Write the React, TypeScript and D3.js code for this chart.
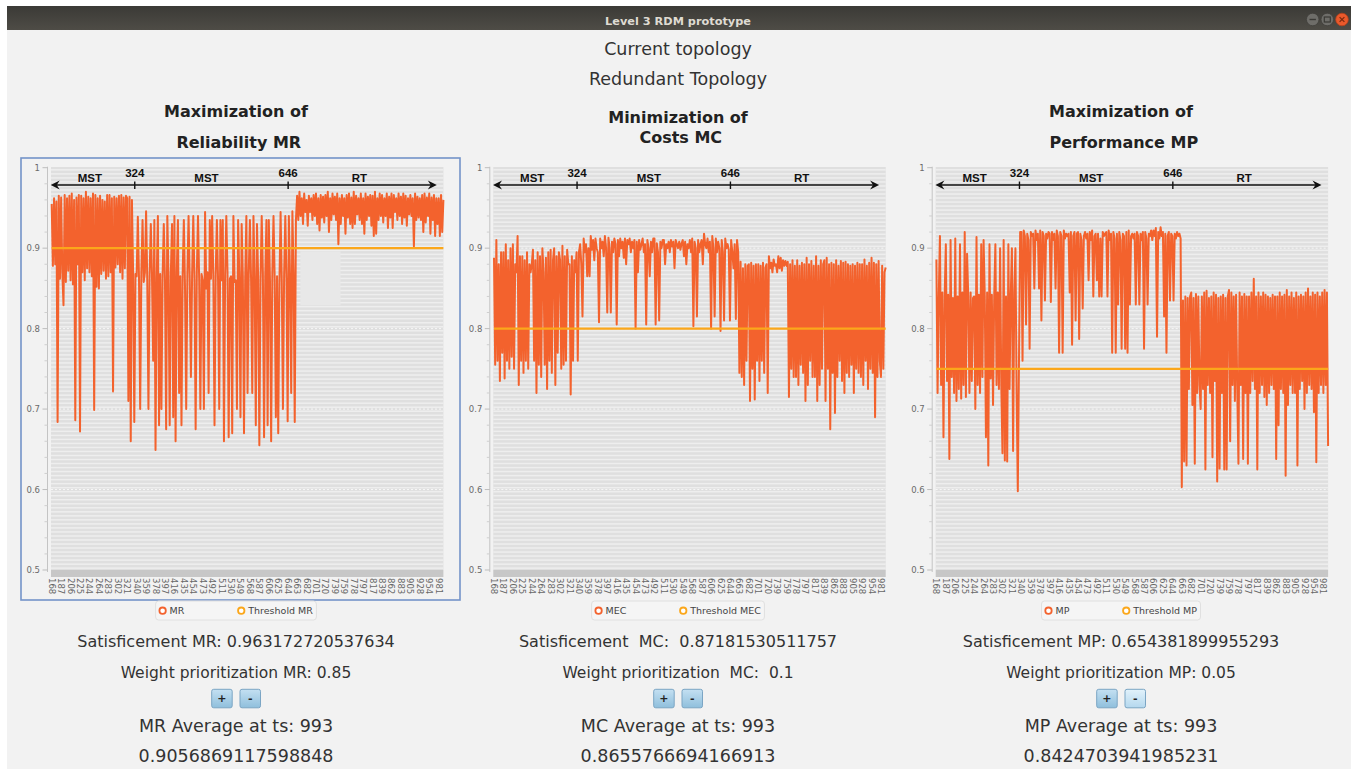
import React from 'react';
import * as d3 from 'd3';

// ---------- DATA ----------
const xTickLabels = [
  '168', '187', '206', '225', '244', '264', '283', '302', '321', '340', '359', '378', '397', '416',
  '435', '454', '473', '492', '511', '530', '549', '568', '587', '606', '625', '644', '663', '682',
  '701', '720', '739', '759', '778', '797', '817', '839', '862', '883', '905', '928', '954', '981',
];
const yMajorTicks = [0.5, 0.6, 0.7, 0.8, 0.9, 1];
const yMinorStep = 0.02;
const X_DOMAIN_END = 41.5; // category index of last timestep (993)
const DATA_STEP = 0.125; // category-index units between samples

const mrSeries = [
  0.955, 0.878, 0.962, 0.880, 0.958, 0.684, 0.965, 0.862,
  0.963, 0.870, 0.829, 0.966, 0.858, 0.962, 0.872, 0.965,
  0.860, 0.968, 0.855, 0.960, 0.686, 0.963, 0.880, 0.966,
  0.672, 0.965, 0.870, 0.962, 0.860, 0.970, 0.875, 0.964,
  0.870, 0.962, 0.865, 0.968, 0.699, 0.966, 0.852, 0.962,
  0.850, 0.965, 0.868, 0.960, 0.872, 0.958, 0.862, 0.966,
  0.865, 0.966, 0.870, 0.962, 0.722, 0.964, 0.876, 0.962,
  0.880, 0.965, 0.870, 0.966, 0.862, 0.963, 0.875, 0.965,
  0.962, 0.710, 0.964, 0.660, 0.960, 0.870, 0.684, 0.868,
  0.865, 0.939, 0.862, 0.700, 0.870, 0.935, 0.858, 0.870,
  0.946, 0.860, 0.700, 0.868, 0.930, 0.865, 0.760, 0.935,
  0.649, 0.862, 0.940, 0.680, 0.868, 0.700, 0.865, 0.930,
  0.860, 0.675, 0.940, 0.865, 0.680, 0.870, 0.930, 0.690,
  0.940, 0.660, 0.870, 0.935, 0.720, 0.865, 0.680, 0.868,
  0.935, 0.850, 0.700, 0.868, 0.940, 0.862, 0.740, 0.866,
  0.940, 0.862, 0.675, 0.870, 0.940, 0.860, 0.700, 0.868,
  0.860, 0.700, 0.945, 0.850, 0.870, 0.720, 0.935, 0.862,
  0.940, 0.865, 0.680, 0.868, 0.935, 0.860, 0.700, 0.935,
  0.860, 0.935, 0.660, 0.865, 0.940, 0.870, 0.665, 0.862,
  0.865, 0.670, 0.940, 0.858, 0.860, 0.700, 0.935, 0.866,
  0.690, 0.930, 0.865, 0.670, 0.862, 0.940, 0.720, 0.868,
  0.935, 0.860, 0.720, 0.940, 0.865, 0.680, 0.930, 0.862,
  0.655, 0.860, 0.940, 0.868, 0.665, 0.865, 0.935, 0.680,
  0.935, 0.860, 0.660, 0.868, 0.940, 0.862, 0.690, 0.865,
  0.670, 0.855, 0.945, 0.860, 0.700, 0.866, 0.940, 0.862,
  0.685, 0.940, 0.865, 0.720, 0.946, 0.870, 0.684, 0.935,
  0.965, 0.935, 0.970, 0.940, 0.962, 0.930, 0.968, 0.945,
  0.960, 0.928, 0.965, 0.945, 0.962, 0.935, 0.966, 0.940,
  0.968, 0.930, 0.962, 0.922, 0.966, 0.938, 0.964, 0.932,
  0.966, 0.940, 0.970, 0.920, 0.962, 0.935, 0.968, 0.942,
  0.964, 0.935, 0.968, 0.905, 0.962, 0.930, 0.966, 0.940,
  0.962, 0.918, 0.966, 0.938, 0.968, 0.930, 0.963, 0.925,
  0.970, 0.930, 0.965, 0.942, 0.962, 0.935, 0.968, 0.930,
  0.962, 0.918, 0.968, 0.935, 0.964, 0.940, 0.966, 0.928,
  0.965, 0.915, 0.970, 0.918, 0.962, 0.935, 0.968, 0.940,
  0.966, 0.932, 0.962, 0.940, 0.968, 0.925, 0.964, 0.938,
  0.968, 0.925, 0.966, 0.945, 0.962, 0.935, 0.968, 0.940,
  0.964, 0.930, 0.968, 0.938, 0.965, 0.928, 0.962, 0.942,
  0.966, 0.940, 0.962, 0.902, 0.968, 0.935, 0.964, 0.938,
  0.962, 0.935, 0.966, 0.920, 0.968, 0.932, 0.963, 0.940,
  0.968, 0.918, 0.963, 0.935, 0.966, 0.915, 0.962, 0.930,
  0.962, 0.915, 0.966, 0.920, 0.960,
];

const mcSeries = [
  0.888, 0.755, 0.910, 0.760, 0.880, 0.735, 0.895, 0.770,
  0.895, 0.738, 0.905, 0.760, 0.885, 0.750, 0.900, 0.765,
  0.905, 0.750, 0.880, 0.870, 0.915, 0.730, 0.890, 0.760,
  0.890, 0.745, 0.885, 0.760, 0.895, 0.750, 0.880, 0.870,
  0.880, 0.898, 0.760, 0.885, 0.720, 0.895, 0.755, 0.890,
  0.740, 0.900, 0.870, 0.755, 0.888, 0.725, 0.895, 0.760,
  0.898, 0.745, 0.885, 0.900, 0.730, 0.890, 0.770, 0.895,
  0.885, 0.750, 0.903, 0.755, 0.890, 0.760, 0.898, 0.880,
  0.880, 0.718, 0.890, 0.760, 0.885, 0.870, 0.895, 0.760,
  0.895, 0.905, 0.880, 0.815, 0.912, 0.895, 0.905, 0.865,
  0.900, 0.865, 0.915, 0.898, 0.910, 0.885, 0.912, 0.900,
  0.895, 0.808, 0.912, 0.900, 0.908, 0.890, 0.915, 0.900,
  0.820, 0.913, 0.900, 0.820, 0.908, 0.895, 0.912, 0.905,
  0.805, 0.910, 0.890, 0.912, 0.900, 0.908, 0.888, 0.912,
  0.880, 0.910, 0.905, 0.912, 0.895, 0.908, 0.900, 0.910,
  0.800, 0.908, 0.870, 0.910, 0.898, 0.905, 0.912, 0.895,
  0.905, 0.805, 0.910, 0.900, 0.865, 0.908, 0.895, 0.912,
  0.912, 0.805, 0.906, 0.895, 0.810, 0.908, 0.900, 0.910,
  0.910, 0.880, 0.905, 0.900, 0.908, 0.895, 0.910, 0.902,
  0.908, 0.875, 0.910, 0.905, 0.900, 0.908, 0.898, 0.906,
  0.910, 0.890, 0.908, 0.880, 0.905, 0.900, 0.910, 0.895,
  0.912, 0.803, 0.908, 0.900, 0.815, 0.910, 0.895, 0.905,
  0.910, 0.880, 0.918, 0.905, 0.900, 0.912, 0.895, 0.908,
  0.800, 0.915, 0.900, 0.815, 0.912, 0.895, 0.908, 0.900,
  0.797, 0.910, 0.895, 0.810, 0.912, 0.900, 0.905, 0.898,
  0.810, 0.910, 0.895, 0.875, 0.905, 0.812, 0.910, 0.895,
  0.745, 0.883, 0.740, 0.875, 0.730, 0.880, 0.760, 0.878,
  0.880, 0.710, 0.882, 0.750, 0.878, 0.712, 0.880, 0.760,
  0.880, 0.735, 0.878, 0.760, 0.882, 0.745, 0.876, 0.880,
  0.720, 0.890, 0.875, 0.882, 0.870, 0.886, 0.878, 0.880,
  0.870, 0.890, 0.875, 0.888, 0.872, 0.885, 0.878, 0.884,
  0.878, 0.883, 0.715, 0.880, 0.750, 0.885, 0.740, 0.878,
  0.740, 0.885, 0.730, 0.878, 0.755, 0.882, 0.745, 0.880,
  0.710, 0.888, 0.730, 0.880, 0.760, 0.884, 0.740, 0.878,
  0.740, 0.890, 0.710, 0.878, 0.730, 0.885, 0.750, 0.880,
  0.885, 0.710, 0.888, 0.750, 0.880, 0.675, 0.882, 0.745,
  0.880, 0.695, 0.885, 0.740, 0.878, 0.760, 0.884, 0.735,
  0.882, 0.720, 0.883, 0.745, 0.880, 0.740, 0.878, 0.755,
  0.880, 0.720, 0.878, 0.750, 0.882, 0.745, 0.880, 0.740,
  0.880, 0.730, 0.886, 0.760, 0.878, 0.725, 0.882, 0.750,
  0.888, 0.745, 0.882, 0.690, 0.880, 0.740, 0.884, 0.760,
  0.740, 0.878, 0.750, 0.870, 0.876,
];

const mpSeries = [
  0.886, 0.720, 0.840, 0.915, 0.730, 0.845, 0.665, 0.840,
  0.905, 0.735, 0.842, 0.638, 0.910, 0.740, 0.838, 0.720,
  0.912, 0.710, 0.840, 0.725, 0.905, 0.713, 0.845, 0.730,
  0.920, 0.715, 0.893, 0.840, 0.720, 0.845, 0.735, 0.838,
  0.840, 0.700, 0.914, 0.730, 0.842, 0.720, 0.905, 0.740,
  0.910, 0.840, 0.665, 0.845, 0.630, 0.905, 0.738, 0.842,
  0.705, 0.840, 0.905, 0.730, 0.845, 0.725, 0.900, 0.730,
  0.645, 0.910, 0.636, 0.840, 0.635, 0.905, 0.725, 0.840,
  0.900, 0.648, 0.845, 0.900, 0.720, 0.598, 0.760, 0.920,
  0.920, 0.760, 0.922, 0.915, 0.805, 0.918, 0.910, 0.775,
  0.920, 0.915, 0.918, 0.850, 0.922, 0.910, 0.918, 0.850,
  0.922, 0.810, 0.920, 0.915, 0.835, 0.918, 0.912, 0.920,
  0.918, 0.833, 0.920, 0.910, 0.918, 0.850, 0.922, 0.915,
  0.770, 0.920, 0.915, 0.770, 0.922, 0.912, 0.918, 0.915,
  0.918, 0.845, 0.920, 0.780, 0.915, 0.920, 0.810, 0.918,
  0.920, 0.787, 0.918, 0.910, 0.825, 0.915, 0.920, 0.912,
  0.918, 0.860, 0.920, 0.910, 0.922, 0.840, 0.915, 0.918,
  0.860, 0.918, 0.840, 0.912, 0.840, 0.920, 0.915, 0.918,
  0.920, 0.840, 0.922, 0.910, 0.918, 0.770, 0.920, 0.912,
  0.770, 0.918, 0.830, 0.920, 0.910, 0.775, 0.918, 0.915,
  0.775, 0.920, 0.770, 0.922, 0.830, 0.915, 0.918, 0.912,
  0.918, 0.830, 0.920, 0.915, 0.830, 0.918, 0.910, 0.920,
  0.775, 0.920, 0.912, 0.830, 0.918, 0.915, 0.922, 0.910,
  0.922, 0.915, 0.925, 0.790, 0.920, 0.912, 0.926, 0.915,
  0.920, 0.815, 0.918, 0.770, 0.915, 0.920, 0.835, 0.918,
  0.915, 0.835, 0.918, 0.912, 0.920, 0.915, 0.918, 0.912,
  0.603, 0.835, 0.635, 0.840, 0.630, 0.838, 0.725, 0.840,
  0.845, 0.705, 0.838, 0.632, 0.843, 0.720, 0.840, 0.730,
  0.700, 0.840, 0.725, 0.845, 0.625, 0.847, 0.730, 0.838,
  0.720, 0.840, 0.640, 0.845, 0.735, 0.842, 0.610, 0.838,
  0.626, 0.840, 0.720, 0.842, 0.625, 0.838, 0.625, 0.840,
  0.848, 0.660, 0.845, 0.730, 0.840, 0.710, 0.842, 0.725,
  0.632, 0.845, 0.730, 0.840, 0.638, 0.843, 0.720, 0.840,
  0.632, 0.840, 0.720, 0.845, 0.735, 0.862, 0.725, 0.840,
  0.625, 0.845, 0.720, 0.840, 0.730, 0.845, 0.715, 0.842,
  0.705, 0.840, 0.720, 0.838, 0.730, 0.842, 0.725, 0.840,
  0.638, 0.840, 0.680, 0.845, 0.725, 0.840, 0.720, 0.842,
  0.617, 0.848, 0.705, 0.840, 0.730, 0.845, 0.720, 0.838,
  0.720, 0.845, 0.630, 0.840, 0.725, 0.842, 0.735, 0.840,
  0.700, 0.845, 0.720, 0.850, 0.730, 0.840, 0.725, 0.845,
  0.696, 0.842, 0.634, 0.845, 0.720, 0.840, 0.730, 0.845,
  0.720, 0.848, 0.730, 0.845, 0.654,
];

const thresholds = [0.9, 0.8, 0.75];
const seriesList = [mrSeries, mcSeries, mpSeries];
const seriesNames = ['MR', 'MEC', 'MP'];
const thresholdNames = ['Threshold MR', 'Threshold MEC', 'Threshold MP'];

const phaseBoundaries = [
  { label: '324', at: 8.8 },
  { label: '646', at: 25.05 },
];
const phaseNames = [
  { label: 'MST', at: 4.05 },
  { label: 'MST', at: 16.4 },
  { label: 'RT', at: 32.6 },
];
const phaseArrowSpan = [0, 40.8];
const phaseArrowValue = 0.9785;

const windowTitle = 'Level 3 RDM prototype';
const headerLines = ['Current topology', 'Redundant Topology'];
const panelTitles = [
  ['Maximization of', ' Reliability MR'],
  ['Minimization of', ' Costs MC'],
  ['Maximization of', ' Performance MP'],
];
const satisficementTexts = [
  'Satisficement MR: 0.963172720537634',
  'Satisficement  MC:  0.87181530511757',
  'Satisficement MP: 0.654381899955293',
];
const weightTexts = [
  'Weight prioritization MR: 0.85',
  'Weight prioritization  MC:  0.1',
  'Weight prioritization MP: 0.05',
];
const averageLabels = ['MR Average at ts: 993', 'MC Average at ts: 993', 'MP Average at ts: 993'];
const averageValues = ['0.9056869117598848', '0.8655766694166913', '0.8424703941985231'];

// ---------- LAYOUT ----------
const W = 1351;
const H = 769;
const COLUMN_CENTERS = [236, 678, 1121];
const PLOT_LEFTS = [51, 493.3, 935.7];
const PLOT_WIDTH = 392.4;
const PLOT_TOP = 167.7;
const PLOT_BOTTOM = 570;
const TITLE_Y = [
  [116.7, 147.5],
  [123.3, 143.3],
  [116.7, 147.5],
];

const FONT = "'DejaVu Sans', 'Noto Sans', sans-serif";
const SERIES_COLOR = '#f3622d';
const THRESH_COLOR = '#fba71b';

function measure(text: string, font: string): number {
  if (typeof document === 'undefined') return text.length * 5.5;
  const c = document.createElement('canvas');
  const ctx = c.getContext('2d');
  if (!ctx) return text.length * 5.5;
  ctx.font = font;
  return ctx.measureText(text).width;
}

function Panel({ idx }: { idx: number }) {
  const left = PLOT_LEFTS[idx];
  const right = left + PLOT_WIDTH;
  const cx = COLUMN_CENTERS[idx];
  const x = d3.scaleLinear().domain([0, X_DOMAIN_END]).range([left + 0.7, right]);
  const y = d3.scaleLinear().domain([0.5, 1]).range([PLOT_BOTTOM, PLOT_TOP]);
  const line = d3
    .line<number>()
    .x((_, i) => x(i * DATA_STEP))
    .y((d) => y(d));
  const data = seriesList[idx];
  const thr = thresholds[idx];
  const thrLine = d3
    .line<number>()
    .x((d) => x(d))
    .y(() => y(thr));

  const axisX = left - 3.5;
  const minorTicks = d3.range(0.5, 1.0001, yMinorStep).filter(
    (v) => !yMajorTicks.some((m) => Math.abs(m - v) < 1e-6)
  );
  const stripes = d3.range(0.5, 1, 0.005);

  const arrowY = y(phaseArrowValue);
  const ax0 = x(phaseArrowSpan[0]) - 1;
  const ax1 = x(phaseArrowSpan[1]);

  const legendFont = `9.5px ${FONT}`;
  const tw = measure(thresholdNames[idx], legendFont);
  const boxW = 31.5 + 2 * tw;
  const boxL = cx - boxW / 2;
  const c1 = boxL + 7;
  const c2 = c1 + 14 + tw;
  const legendY = 610.7;

  const btnY = 689.3;
  const btnPlus = cx - 24.3;
  const btnMinus = cx + 4;

  return (
    <g>
      {idx === 0 && (
        <rect x={21} y={158} width={439} height={442} fill="none" stroke="#7393c8" strokeWidth={1.6} />
      )}
      {panelTitles[idx].map((t, k) => (
        <text
          key={k}
          x={cx}
          y={TITLE_Y[idx][k]}
          textAnchor="middle"
          fontFamily={FONT}
          fontWeight="bold"
          fontSize={16}
          fill="#222"
          style={{ whiteSpace: 'pre' }}
        >
          {t}
        </text>
      ))}
      <rect x={left} y={PLOT_TOP - 0.7} width={PLOT_WIDTH} height={PLOT_BOTTOM - PLOT_TOP + 0.7} fill="#dfdfdf" />
      {stripes.map((v, k) => (
        <rect key={k} x={left} y={y(v) - 2.6} width={PLOT_WIDTH} height={1.5} fill="#eeeeee" />
      ))}
      {yMajorTicks
        .filter((v) => v > 0.5 && v < 1)
        .map((v) => (
          <line key={v} x1={left} x2={right} y1={y(v)} y2={y(v)} stroke="#f7f7f7" strokeWidth={1} strokeDasharray="2 2" />
        ))}
      {idx === 0 && (
        <rect x={x(26.35)} y={y(0.896)} width={x(30.6) - x(26.35)} height={y(0.829) - y(0.896)} fill="#e8e8e8" />
      )}
      <rect x={left} y={PLOT_BOTTOM} width={PLOT_WIDTH} height={7} fill="#c7c7c7" />
      <line x1={axisX} x2={axisX} y1={PLOT_TOP - 1} y2={PLOT_BOTTOM + 2} stroke="#c4c4c4" strokeWidth={1} />
      {yMajorTicks.map((v) => (
        <g key={v}>
          <line x1={axisX - 5} x2={axisX} y1={y(v)} y2={y(v)} stroke="#bdbdbd" strokeWidth={1} />
          <text
            x={axisX - 7.5}
            y={y(v)}
            textAnchor="end"
            dominantBaseline="central"
            fontFamily={FONT}
            fontSize={8.5}
            fill="#6a6a6a"
          >
            {d3.format('~g')(v)}
          </text>
        </g>
      ))}
      {minorTicks.map((v, k) => (
        <line key={k} x1={axisX - 3} x2={axisX} y1={y(v)} y2={y(v)} stroke="#cfcfcf" strokeWidth={1} />
      ))}
      {xTickLabels.map((lab, i) => (
        <text
          key={lab}
          transform={`translate(${x(i)},578) rotate(90)`}
          textAnchor="start"
          dominantBaseline="central"
          fontFamily={FONT}
          fontSize={8.5}
          fill="#666"
        >
          {lab}
        </text>
      ))}
      <path d={line(data) || ''} fill="none" stroke={SERIES_COLOR} strokeWidth={2} strokeLinejoin="round" />
      <path d={thrLine([0, X_DOMAIN_END]) || ''} fill="none" stroke={THRESH_COLOR} strokeWidth={2.4} />
      <line x1={ax0 + 4} x2={ax1 - 4} y1={arrowY} y2={arrowY} stroke="#111" strokeWidth={1.4} />
      <path d={`M${ax0},${arrowY} L${ax0 + 9},${arrowY - 4.5} L${ax0 + 6},${arrowY} L${ax0 + 9},${arrowY + 4.5} Z`} fill="#111" />
      <path d={`M${ax1},${arrowY} L${ax1 - 9},${arrowY - 4.5} L${ax1 - 6},${arrowY} L${ax1 - 9},${arrowY + 4.5} Z`} fill="#111" />
      {phaseBoundaries.map((p) => (
        <g key={p.label}>
          <line x1={x(p.at)} x2={x(p.at)} y1={arrowY - 3.5} y2={arrowY + 4} stroke="#111" strokeWidth={1.4} />
          <text
            x={x(p.at)}
            y={arrowY - 7.7}
            textAnchor="middle"
            fontFamily="'Liberation Sans', Arial, sans-serif"
            fontWeight="bold"
            fontSize={11.5}
            fill="#111"
          >
            {p.label}
          </text>
        </g>
      ))}
      {phaseNames.map((p, k) => (
        <text
          key={k}
          x={x(p.at)}
          y={arrowY - 2.7}
          textAnchor="middle"
          fontFamily="'Liberation Sans', Arial, sans-serif"
          fontWeight="bold"
          fontSize={11.5}
          fill="#111"
        >
          {p.label}
        </text>
      ))}
      <rect x={boxL} y={601} width={boxW} height={19} rx={3} fill="#f5f5f5" stroke="#e0e0e0" strokeWidth={1} />
      <circle cx={c1} cy={legendY} r={3.2} fill="#fff" stroke={SERIES_COLOR} strokeWidth={1.8} />
      <text x={c1 + 7} y={legendY} dominantBaseline="central" fontFamily={FONT} fontSize={9.5} fill="#444">
        {seriesNames[idx]}
      </text>
      <circle cx={c2} cy={legendY} r={3.2} fill="#fff" stroke={THRESH_COLOR} strokeWidth={1.8} />
      <text x={c2 + 7} y={legendY} dominantBaseline="central" fontFamily={FONT} fontSize={9.5} fill="#444">
        {thresholdNames[idx]}
      </text>
      <text x={cx} y={646.7} textAnchor="middle" fontFamily={FONT} fontSize={16} fill="#333" style={{ whiteSpace: 'pre' }}>
        {satisficementTexts[idx]}
      </text>
      <text x={cx} y={677.7} textAnchor="middle" fontFamily={FONT} fontSize={15.5} fill="#333" style={{ whiteSpace: 'pre' }}>
        {weightTexts[idx]}
      </text>
      {[
        { bx: btnPlus, label: '+', hover: false },
        { bx: btnMinus, label: '-', hover: idx === 2 },
      ].map((b) => (
        <g key={b.label}>
          <rect
            x={b.bx}
            y={btnY}
            width={20.5}
            height={18.5}
            rx={2}
            fill={b.hover ? 'url(#btnHover)' : 'url(#btnGrad)'}
            stroke="#7ba5c4"
            strokeWidth={1}
          />
          <text
            x={b.bx + 10.25}
            y={btnY + 9.5}
            textAnchor="middle"
            dominantBaseline="central"
            fontFamily={FONT}
            fontWeight="bold"
            fontSize={11}
            fill="#222"
          >
            {b.label}
          </text>
        </g>
      ))}
      <text x={cx} y={732.3} textAnchor="middle" fontFamily={FONT} fontSize={17.5} fill="#333">
        {averageLabels[idx]}
      </text>
      <text x={cx} y={761.7} textAnchor="middle" fontFamily={FONT} fontSize={17.5} fill="#333">
        {averageValues[idx]}
      </text>
    </g>
  );
}

export default function App() {
  return (
    <div style={{ position: 'absolute', left: 0, top: 0, width: W, height: H }}>
      <svg width={W} height={H} style={{ display: 'block' }}>
        <defs>
          <linearGradient id="titleGrad" x1="0" y1="0" x2="0" y2="1">
            <stop offset="0" stopColor="#3b3a36" />
            <stop offset="1" stopColor="#4e4c46" />
          </linearGradient>
          <linearGradient id="btnGrad" x1="0" y1="0" x2="0" y2="1">
            <stop offset="0" stopColor="#c4e0f2" />
            <stop offset="1" stopColor="#8fbfdc" />
          </linearGradient>
          <linearGradient id="btnHover" x1="0" y1="0" x2="0" y2="1">
            <stop offset="0" stopColor="#e2f2fb" />
            <stop offset="1" stopColor="#b4d8ee" />
          </linearGradient>
        </defs>
        <rect x={0} y={0} width={W} height={H} fill="#ffffff" />
        <rect x={7} y={30} width={W - 7} height={H - 30} fill="#f2f2f2" />
        <rect x={7} y={6} width={W - 7} height={24} fill="url(#titleGrad)" />
        <text
          x={678}
          y={24.7}
          textAnchor="middle"
          fontFamily={FONT}
          fontWeight="bold"
          fontSize={11.3}
          fill="#dfdbd2"
        >
          {windowTitle}
        </text>
        <circle cx={1312.7} cy={19.5} r={6.3} fill="#6e6d69" stroke="#3f3e3a" strokeWidth={0.8} />
        <line x1={1309.5} x2={1315.9} y1={19.5} y2={19.5} stroke="#3a3935" strokeWidth={1.4} />
        <circle cx={1327.3} cy={19.5} r={6.3} fill="#6e6d69" stroke="#3f3e3a" strokeWidth={0.8} />
        <rect x={1324.3} y={17} width={6} height={5} fill="none" stroke="#3a3935" strokeWidth={1.2} />
        <circle cx={1342} cy={19.5} r={6.3} fill="#e9592b" stroke="#b8401c" strokeWidth={0.8} />
        <path d="M1339.6,17.1 L1344.4,21.9 M1344.4,17.1 L1339.6,21.9" stroke="#7a2a10" strokeWidth={1.3} />
        {headerLines.map((t, k) => (
          <text key={t} x={678} y={55 + k * 30} textAnchor="middle" fontFamily={FONT} fontSize={17.5} fill="#333">
            {t}
          </text>
        ))}
        {[0, 1, 2].map((i) => (
          <Panel key={i} idx={i} />
        ))}
      </svg>
    </div>
  );
}
